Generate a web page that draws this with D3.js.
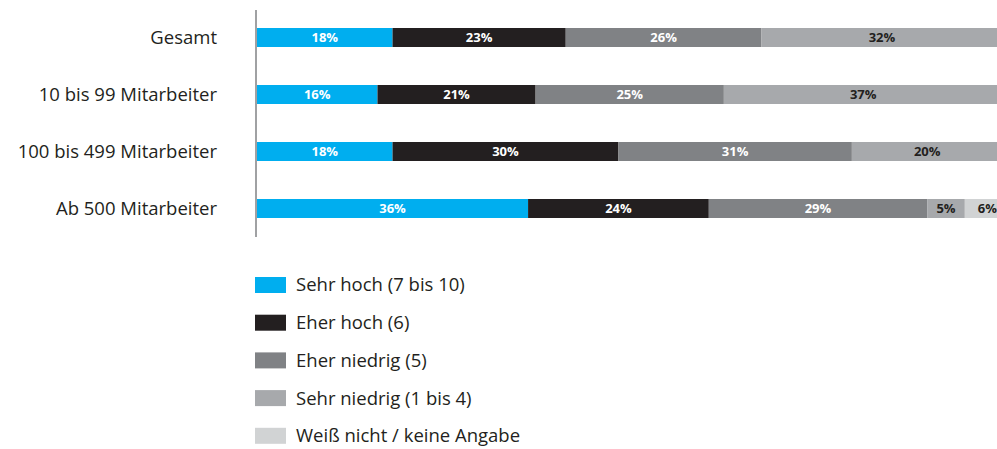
<!DOCTYPE html>
<html>
<head>
<meta charset="utf-8">
<script src="https://cdn.jsdelivr.net/npm/d3@7"></script>
<style>
  body { margin: 0; background: #fff; }
  text { font-family: "Open Sans", "Noto Sans", sans-serif; }
</style>
</head>
<body>
<script>
var categories = ['Gesamt', '10 bis 99 Mitarbeiter', '100 bis 499 Mitarbeiter', 'Ab 500 Mitarbeiter'];
var series = ['Sehr hoch (7 bis 10)', 'Eher hoch (6)', 'Eher niedrig (5)', 'Sehr niedrig (1 bis 4)', 'Weiß nicht / keine Angabe'];
var sehrHoch    = [18, 16, 18, 36];
var eherHoch    = [23, 21, 30, 24];
var eherNiedrig = [26, 25, 31, 29];
var sehrNiedrig = [32, 37, 20, 5];
var weissNicht  = [1, 1, 1, 6];

var colors = ['#00aeef', '#231f20', '#808285', '#a7a9ac', '#d1d3d4'];
var labelColors = ['#fff', '#fff', '#fff', '#231f20', '#231f20'];

var width = 997, height = 449;

var rows = categories.map(function(c, i) {
  return { cat: c, vals: [sehrHoch[i], eherHoch[i], eherNiedrig[i], sehrNiedrig[i], weissNicht[i]] };
});

var xScale = d3.scaleLinear().domain([0, 100]).range([257, 1010]);
var yScale = d3.scaleBand().domain(categories).range([9, 237]).paddingInner(2 / 3).paddingOuter(1 / 3);

var svg = d3.select('body').append('svg')
    .attr('width', width)
    .attr('height', height);

// category labels
svg.selectAll('.cat')
    .data(categories)
  .enter().append('text')
    .attr('class', 'cat')
    .attr('x', 217)
    .attr('y', function(d) { return yScale(d) + yScale.bandwidth() / 2; })
    .attr('dy', '.35em')
    .style('text-anchor', 'end')
    .style('font-size', '18.5px')
    .style('fill', '#231f20')
    .text(function(d) { return d; });

// stacked segments
var row = svg.selectAll('.row')
    .data(rows)
  .enter().append('g')
    .attr('class', 'row')
    .attr('transform', function(d) { return 'translate(0,' + yScale(d.cat) + ')'; });

row.each(function(d) {
  var g = d3.select(this), acc = 0;
  d.vals.forEach(function(v, j) {
    var x0 = xScale(acc), x1 = xScale(acc + v);
    acc += v;
    g.append('rect')
        .attr('x', x0)
        .attr('width', x1 - x0)
        .attr('height', yScale.bandwidth())
        .style('fill', colors[j]);
    if (v >= 5) {
      g.append('text')
          .attr('x', (x0 + x1) / 2)
          .attr('y', yScale.bandwidth() / 2)
          .attr('dy', '.36em')
          .style('text-anchor', 'middle')
          .style('font-size', '13px')
          .style('font-weight', 'bold')
          .style('fill', labelColors[j])
          .text(v + '%');
    }
  });
});

// axis line
svg.append('line')
    .attr('x1', 256).attr('x2', 256)
    .attr('y1', 10).attr('y2', 237)
    .style('stroke', '#808285')
    .style('stroke-width', 1.5);

// legend
var legend = svg.selectAll('.legend')
    .data(series)
  .enter().append('g')
    .attr('class', 'legend')
    .attr('transform', function(d, i) { return 'translate(255,' + (277 + i * 37.7) + ')'; });

legend.append('rect')
    .attr('width', 31)
    .attr('height', 16)
    .style('fill', function(d, i) { return colors[i]; });

legend.append('text')
    .attr('x', 41)
    .attr('y', 8)
    .attr('dy', '.35em')
    .style('font-size', '18.5px')
    .style('fill', '#231f20')
    .text(function(d) { return d; });
</script>
</body>
</html>
